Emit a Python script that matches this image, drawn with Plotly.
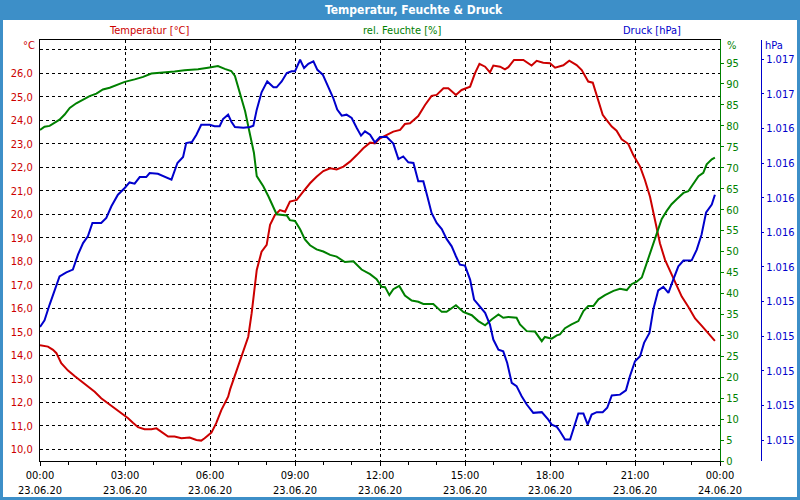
import pandas as pd
import plotly.graph_objects as go

# ---------------- data ----------------
temp_hours = [0.0, 0.28, 0.46, 0.58, 0.75, 0.99, 1.22, 1.46, 1.69, 1.93, 2.16, 2.40, 2.64, 2.87, 3.11,
              3.28, 3.46, 3.69, 3.93, 4.11, 4.28, 4.52, 4.75, 4.99, 5.28, 5.52, 5.69, 5.81, 6.05, 6.22,
              6.40, 6.64, 6.71, 6.94, 7.18, 7.35, 7.47, 7.65, 7.82, 8.0, 8.12, 8.29, 8.47, 8.65, 8.82,
              9.06, 9.29, 9.53, 9.76, 10.0, 10.24, 10.47, 10.71, 10.94, 11.18, 11.41, 11.65, 11.82, 12.0,
              12.24, 12.47, 12.71, 12.88, 13.06, 13.35, 13.59, 13.82, 14.0, 14.24, 14.41, 14.68, 14.88,
              15.18, 15.35, 15.51, 15.71, 15.88, 16.0, 16.24, 16.41, 16.53, 16.73, 17.06, 17.35, 17.53,
              17.76, 18.0, 18.18, 18.47, 18.68, 18.94, 19.12, 19.35, 19.51, 19.71, 19.86, 20.0, 20.18,
              20.35, 20.53, 20.76, 20.94, 21.18, 21.35, 21.53, 21.71, 21.88, 22.06, 22.24, 22.41, 22.65,
              22.88, 23.12, 23.35, 23.59, 23.82]
temp_values = [14.43, 14.37, 14.23, 14.09, 13.66, 13.35, 13.12, 12.88, 12.67, 12.45, 12.17, 11.96, 11.74,
               11.53, 11.32, 11.13, 10.94, 10.85, 10.85, 10.89, 10.75, 10.54, 10.54, 10.47, 10.50, 10.40,
               10.37, 10.47, 10.71, 11.11, 11.67, 12.24, 12.55, 13.38, 14.16, 14.79, 15.79, 17.63, 18.41,
               18.70, 19.55, 19.97, 20.18, 20.11, 20.54, 20.61, 20.96, 21.32, 21.60, 21.84, 21.96, 21.91,
               22.03, 22.24, 22.52, 22.81, 23.05, 23.02, 23.23, 23.38, 23.52, 23.59, 23.84, 23.87, 24.18,
               24.65, 25.04, 25.08, 25.36, 25.36, 25.08, 25.29, 25.43, 26.0, 26.40, 26.28, 26.04, 26.33,
               26.28, 26.17, 26.26, 26.57, 26.57, 26.33, 26.53, 26.45, 26.43, 26.24, 26.34, 26.54, 26.35,
               26.14, 25.65, 25.60, 24.87, 24.23, 24.01, 23.73, 23.56, 23.19, 23.0, 22.52, 22.03, 21.46,
               20.75, 19.69, 18.77, 18.06, 17.56, 17.14, 16.50, 16.07, 15.57, 15.26, 14.95, 14.61]

hum_hours = [0.0, 0.16, 0.34, 0.52, 0.69, 0.87, 1.05, 1.28, 1.52, 1.75, 1.99, 2.22, 2.46, 2.69, 2.99,
             3.34, 3.64, 3.93, 4.4, 4.75, 5.1, 5.58, 5.93, 6.28, 6.52, 6.75, 6.88, 7.06, 7.24, 7.41,
             7.55, 7.65, 7.88, 8.06, 8.24, 8.35, 8.71, 8.82, 9.0, 9.18, 9.35, 9.53, 9.76, 10.0, 10.24,
             10.47, 10.76, 11.06, 11.35, 11.65, 11.88, 12.06, 12.18, 12.33, 12.47, 12.68, 12.88, 13.12,
             13.35, 13.53, 13.88, 14.18, 14.35, 14.68, 14.94, 15.24, 15.47, 15.71, 15.94, 16.18, 16.35,
             16.53, 16.82, 16.94, 17.18, 17.47, 17.71, 17.82, 18.06, 18.24, 18.35, 18.53, 18.76, 19.0,
             19.18, 19.35, 19.53, 19.71, 19.94, 20.24, 20.47, 20.71, 20.88, 21.06, 21.24, 21.41, 21.59,
             21.76, 21.94, 22.12, 22.29, 22.47, 22.71, 22.88, 23.06, 23.24, 23.41, 23.53, 23.71, 23.82]
hum_values = [79.0, 79.8, 80.0, 80.7, 81.5, 82.7, 84.3, 85.4, 86.3, 87.1, 87.7, 88.7, 89.1, 89.7, 90.5,
              91.1, 91.7, 92.5, 92.7, 93.0, 93.3, 93.5, 93.9, 94.3, 93.6, 93.1, 91.9, 87.9, 83.5, 78.0,
              73.6, 68.0, 65.6, 63.2, 60.5, 58.9, 58.6, 57.5, 57.3, 55.3, 52.9, 51.5, 50.5, 50.0, 49.2,
              48.8, 47.5, 47.7, 45.7, 44.6, 43.4, 41.6, 41.5, 39.6, 41.0, 41.8, 39.5, 38.3, 38.0, 37.5,
              37.5, 35.6, 35.6, 37.2, 35.6, 34.8, 33.4, 32.4, 33.8, 35.0, 34.2, 34.4, 34.2, 32.6, 31.0,
              30.9, 28.6, 29.6, 29.2, 30.0, 30.2, 31.7, 32.6, 33.4, 35.8, 37.0, 37.0, 38.6, 39.6, 40.6,
              41.1, 40.8, 42.2, 42.8, 43.8, 47.3, 50.9, 54.5, 57.7, 59.7, 61.3, 62.5, 64.0, 64.4, 66.3,
              68.0, 68.8, 70.8, 72.0, 72.4]

press_hours = [0.0, 0.16, 0.34, 0.52, 0.69, 0.93, 1.16, 1.34, 1.52, 1.69, 1.85, 2.16, 2.34, 2.52, 2.75,
               2.99, 3.16, 3.34, 3.52, 3.75, 3.87, 4.16, 4.4, 4.64, 4.85, 5.05, 5.16, 5.36, 5.52, 5.69,
               5.99, 6.16, 6.34, 6.46, 6.64, 6.75, 6.88, 7.18, 7.41, 7.53, 7.65, 7.82, 8.02, 8.24, 8.35,
               8.53, 8.71, 8.88, 9.0, 9.18, 9.32, 9.47, 9.65, 9.79, 9.98, 10.18, 10.35, 10.49, 10.65,
               10.82, 11.0, 11.18, 11.33, 11.47, 11.65, 11.82, 12.0, 12.24, 12.47, 12.65, 12.82, 13.0,
               13.18, 13.35, 13.53, 13.67, 13.82, 14.0, 14.18, 14.35, 14.53, 14.68, 14.82, 15.0, 15.18,
               15.32, 15.53, 15.71, 15.88, 16.0, 16.18, 16.35, 16.49, 16.65, 16.82, 17.0, 17.18, 17.41,
               17.71, 17.94, 18.06, 18.24, 18.35, 18.53, 18.71, 18.85, 19.0, 19.18, 19.33, 19.47, 19.65,
               19.86, 20.02, 20.18, 20.47, 20.68, 20.82, 21.0, 21.18, 21.32, 21.51, 21.65, 21.82, 22.0,
               22.18, 22.35, 22.53, 22.71, 23.0, 23.18, 23.35, 23.51, 23.71, 23.82]
press_values = [1015.254, 1015.292, 1015.383, 1015.465, 1015.546, 1015.569, 1015.585, 1015.671, 1015.738,
                1015.777, 1015.854, 1015.854, 1015.883, 1015.950, 1016.017, 1016.056, 1016.088, 1016.081,
                1016.119, 1016.119, 1016.142, 1016.138, 1016.123, 1016.104, 1016.200, 1016.235, 1016.315,
                1016.321, 1016.363, 1016.421, 1016.421, 1016.412, 1016.412, 1016.454, 1016.479, 1016.440,
                1016.408, 1016.404, 1016.408, 1016.415, 1016.508, 1016.608, 1016.671, 1016.637, 1016.637,
                1016.671, 1016.719, 1016.729, 1016.729, 1016.796, 1016.748, 1016.773, 1016.787, 1016.738,
                1016.710, 1016.633, 1016.575, 1016.508, 1016.473, 1016.479, 1016.460, 1016.402, 1016.358,
                1016.383, 1016.363, 1016.319, 1016.350, 1016.350, 1016.312, 1016.223, 1016.238, 1016.204,
                1016.200, 1016.094, 1016.094, 1016.008, 1015.912, 1015.854, 1015.819, 1015.762, 1015.719,
                1015.662, 1015.613, 1015.608, 1015.527, 1015.412, 1015.373, 1015.335, 1015.267, 1015.181,
                1015.123, 1015.113, 1015.046, 1014.931, 1014.912, 1014.854, 1014.806, 1014.758, 1014.762,
                1014.719, 1014.690, 1014.677, 1014.652, 1014.604, 1014.604, 1014.681, 1014.754, 1014.754,
                1014.690, 1014.748, 1014.762, 1014.762, 1014.787, 1014.858, 1014.863, 1014.888, 1014.969,
                1015.056, 1015.085, 1015.162, 1015.219, 1015.358, 1015.465, 1015.485, 1015.450, 1015.527,
                1015.604, 1015.637, 1015.638, 1015.700, 1015.787, 1015.915, 1015.960, 1016.017]

temp_ticks = list(range(10, 28))
temp_ticktext = [f"{v},0" for v in range(10, 27)] + [""]
hum_ticks = list(range(0, 100, 5))
press_ticks = [1014.6, 1014.8, 1015.0, 1015.2, 1015.4, 1015.6, 1015.8, 1016.0, 1016.2, 1016.4, 1016.6, 1016.8]

series_names = ["Temperatur [°C]", "rel. Feuchte [%]", "Druck [hPa]"]
unit_labels = ["°C", "%", "hPa"]
title_text = "Temperatur, Feuchte & Druck"
start = pd.Timestamp("2020-06-23 00:00")
end = pd.Timestamp("2020-06-24 00:00")

# ---------------- styling ----------------
RED = "#cc0000"
GREEN = "#008000"
BLUE = "#0000cc"
FRAME = "#3d8fc8"
FONT = "DejaVu Sans Condensed, Liberation Sans, sans-serif"

W, H = 800, 500
ML, MR, MT, MB = 40, 0, 40, 39
PW, PH = W - ML - MR, H - MT - MB


def px_x(x):
    return (x - ML) / PW


def px_y(y):
    return (H - MB - y) / PH


def to_time(hours):
    return start + pd.to_timedelta(hours, unit="h")


fig = go.Figure()
fig.add_trace(go.Scatter(x=to_time(temp_hours), y=temp_values, mode="lines", yaxis="y",
                         line=dict(color=RED, width=2), showlegend=False, name=series_names[0]))
fig.add_trace(go.Scatter(x=to_time(hum_hours), y=hum_values, mode="lines", yaxis="y2",
                         line=dict(color=GREEN, width=2), showlegend=False, name=series_names[1]))
fig.add_trace(go.Scatter(x=to_time(press_hours), y=press_values, mode="lines", yaxis="y3",
                         line=dict(color=BLUE, width=2), showlegend=False, name=series_names[2]))

fig.update_layout(
    width=W, height=H,
    margin=dict(l=ML, r=MR, t=MT, b=MB, pad=0, autoexpand=False),
    paper_bgcolor=FRAME,
    plot_bgcolor="white",
    separators=",.",
    font=dict(family=FONT, size=11, color="black"),
    xaxis=dict(
        domain=[0, 680 / PW],
        type="date",
        range=[start, end],
        tickmode="linear", tick0=start, dtick=3 * 3600000,
        tickformat="%H:%M<br>%d.%m.%y",
        ticks="outside", ticklen=4, tickcolor="black",
        minor=dict(dtick=3600000, ticks="outside", ticklen=3, tickcolor="black", showgrid=False),
        showline=True, linecolor="black", linewidth=1, mirror=True,
        showgrid=True, gridcolor="black", gridwidth=1, griddash="3px,3px",
        tickfont=dict(color="black", size=11),
        zeroline=False, automargin=False,
    ),
    yaxis=dict(
        range=[9.502, 27.417],
        tickmode="array", tickvals=temp_ticks, ticktext=temp_ticktext,
        ticks="", ticklabelstandoff=4,
        showline=True, linecolor="black", linewidth=1,
        showgrid=True, gridcolor="black", gridwidth=1, griddash="3px,3px",
        tickfont=dict(color=RED, size=11),
        zeroline=False, automargin=False,
    ),
    yaxis2=dict(
        range=[0, 100.5],
        overlaying="y", side="right", anchor="x",
        tickmode="array", tickvals=hum_ticks,
        ticks="outside", ticklen=3, tickcolor=GREEN,
        showline=True, linecolor=GREEN, linewidth=1,
        showgrid=False, zeroline=False, automargin=False,
        tickfont=dict(color=GREEN, size=11),
    ),
    yaxis3=dict(
        range=[1014.48, 1016.91],
        overlaying="y", side="right", anchor="free", position=(761 - ML) / PW,
        tickmode="array", tickvals=press_ticks, tickformat=",.0f",
        ticks="outside", ticklen=2, tickcolor=BLUE,
        showline=True, linecolor=BLUE, linewidth=1,
        showgrid=False, zeroline=False, automargin=False,
        tickfont=dict(color=BLUE, size=11),
    ),
    shapes=[
        dict(type="rect", xref="paper", yref="paper", layer="below",
             x0=px_x(3), x1=px_x(797), y0=px_y(497), y1=px_y(20),
             fillcolor="white", line=dict(width=0)),
    ],
)

ann = [
    dict(text=f"<b>{title_text}</b>", x=px_x(414), y=px_y(10), font=dict(color="white", size=12),
         xanchor="center", yanchor="middle"),
    dict(text=series_names[0], x=px_x(149), y=px_y(31), font=dict(color=RED, size=11),
         xanchor="center", yanchor="middle"),
    dict(text=series_names[1], x=px_x(402), y=px_y(31), font=dict(color=GREEN, size=11),
         xanchor="center", yanchor="middle"),
    dict(text=series_names[2], x=px_x(652), y=px_y(31), font=dict(color=BLUE, size=11),
         xanchor="center", yanchor="middle"),
    dict(text=unit_labels[0], x=px_x(37), y=px_y(45), font=dict(color=RED, size=11),
         xanchor="right", yanchor="middle"),
    dict(text=unit_labels[1], x=px_x(725), y=px_y(45), font=dict(color=GREEN, size=11),
         xanchor="left", yanchor="middle"),
    dict(text=unit_labels[2], x=px_x(763), y=px_y(45), font=dict(color=BLUE, size=11),
         xanchor="left", yanchor="middle"),
]
for a in ann:
    a.update(xref="paper", yref="paper", showarrow=False)
fig.update_layout(annotations=ann)

fig.write_html("out.html")
